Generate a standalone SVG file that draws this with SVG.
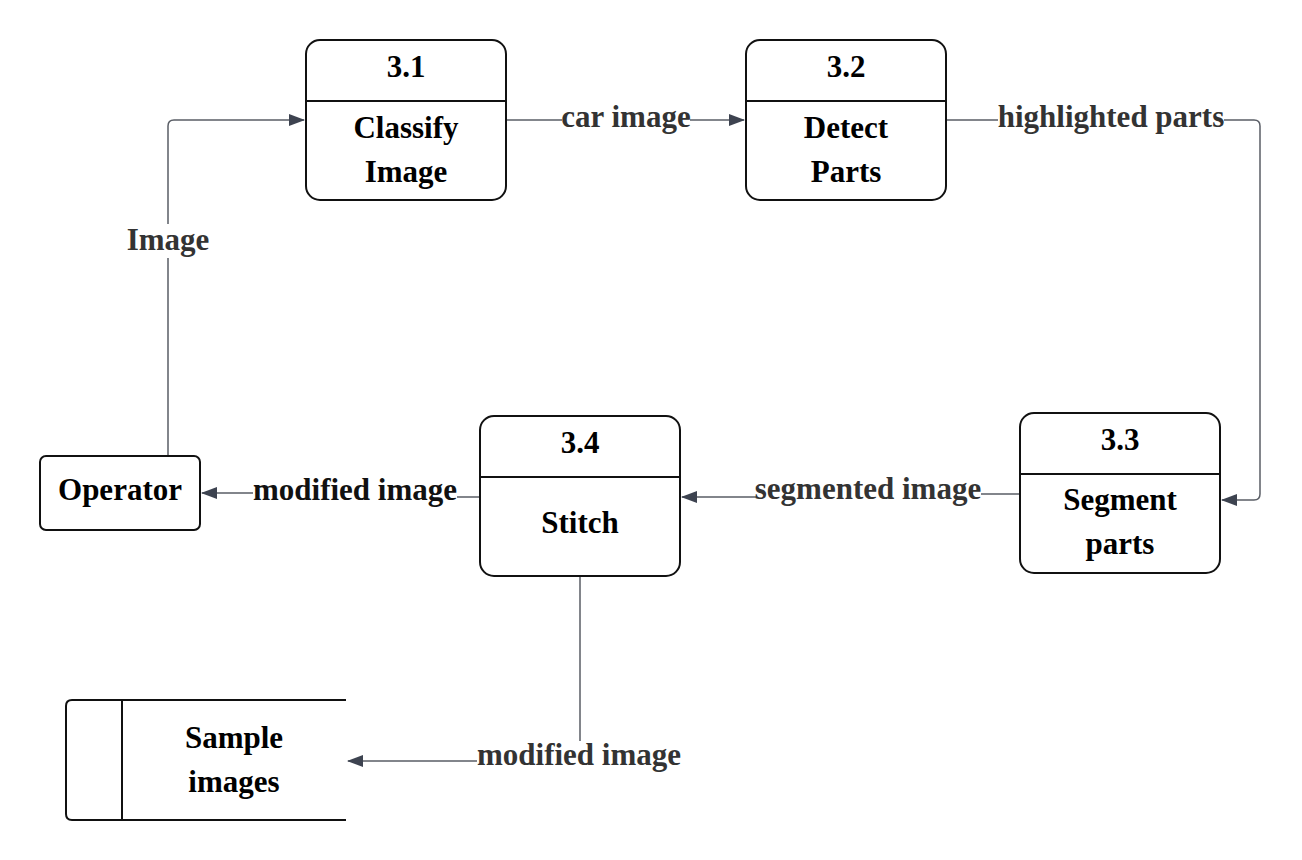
<svg xmlns="http://www.w3.org/2000/svg" width="1302" height="860" viewBox="0 0 1302 860">
<style>
.box{fill:#fff;stroke:#111;stroke-width:2}
.div{stroke:#111;stroke-width:2}
.ln{fill:none;stroke:#5a5e66;stroke-width:1.5}
.bg{fill:#fff}
</style>
<defs>
<marker id="ah" markerWidth="16" markerHeight="12" refX="15" refY="6" orient="auto" markerUnits="userSpaceOnUse">
<path d="M0,0 L16,6 L0,12 Z" fill="#3d4350"/>
</marker>
</defs>
<rect width="1302" height="860" fill="#fff"/>
<g id="connectors">
<path class="ln" d="M168,456 V126 Q168,120 174,120 H304" marker-end="url(#ah)"/>
<rect class="bg" x="127" y="224" width="82" height="34"/>
<text font-family="Liberation Serif" font-weight="bold" font-size="31" fill="#333" text-anchor="middle" x="168" y="250">Image</text>
<path class="ln" d="M506,120 H744" marker-end="url(#ah)"/>
<rect class="bg" x="562" y="103" width="128" height="34"/>
<text font-family="Liberation Serif" font-weight="bold" font-size="31" fill="#333" text-anchor="middle" x="626" y="127">car image</text>
<path class="ln" d="M946,120 H1254 Q1260,120 1260,126 V494 Q1260,500 1254,500 H1222" marker-end="url(#ah)"/>
<rect class="bg" x="998" y="103" width="226" height="34"/>
<text font-family="Liberation Serif" font-weight="bold" font-size="31" fill="#333" text-anchor="middle" x="1111" y="127">highlighted parts</text>
<path class="ln" d="M1020,494 H870 V497 H682" marker-end="url(#ah)"/>
<rect class="bg" x="756" y="475" width="225" height="34"/>
<text font-family="Liberation Serif" font-weight="bold" font-size="31" fill="#333" text-anchor="middle" x="868" y="499">segmented image</text>
<path class="ln" d="M480,497 H360 V493 H202" marker-end="url(#ah)"/>
<rect class="bg" x="253" y="476" width="204" height="34"/>
<text font-family="Liberation Serif" font-weight="bold" font-size="31" fill="#111" text-anchor="middle" x="355" y="500">modified image</text>
<path class="ln" d="M580,576 V761 H348" marker-end="url(#ah)"/>
<rect class="bg" x="477" y="741" width="204" height="34"/>
<text font-family="Liberation Serif" font-weight="bold" font-size="31" fill="#333" text-anchor="middle" x="579" y="765">modified image</text>
</g>
<g id="p31">
<rect class="box" x="306" y="40" width="200" height="160" rx="14"/>
<line class="div" x1="306" y1="101" x2="506" y2="101"/>
<text font-family="Liberation Serif" font-weight="bold" font-size="31" fill="#000" text-anchor="middle" x="406" y="77">3.1</text>
<text font-family="Liberation Serif" font-weight="bold" font-size="31" fill="#000" text-anchor="middle" x="406" y="138">Classify</text>
<text font-family="Liberation Serif" font-weight="bold" font-size="31" fill="#000" text-anchor="middle" x="406" y="182">Image</text>
</g>
<g id="p32">
<rect class="box" x="746" y="40" width="200" height="160" rx="14"/>
<line class="div" x1="746" y1="101" x2="946" y2="101"/>
<text font-family="Liberation Serif" font-weight="bold" font-size="31" fill="#000" text-anchor="middle" x="846" y="77">3.2</text>
<text font-family="Liberation Serif" font-weight="bold" font-size="31" fill="#000" text-anchor="middle" x="846" y="138">Detect</text>
<text font-family="Liberation Serif" font-weight="bold" font-size="31" fill="#000" text-anchor="middle" x="846" y="182">Parts</text>
</g>
<g id="p33">
<rect class="box" x="1020" y="413" width="200" height="160" rx="14"/>
<line class="div" x1="1020" y1="474" x2="1220" y2="474"/>
<text font-family="Liberation Serif" font-weight="bold" font-size="31" fill="#000" text-anchor="middle" x="1120" y="450">3.3</text>
<text font-family="Liberation Serif" font-weight="bold" font-size="31" fill="#000" text-anchor="middle" x="1120" y="510">Segment</text>
<text font-family="Liberation Serif" font-weight="bold" font-size="31" fill="#000" text-anchor="middle" x="1120" y="554">parts</text>
</g>
<g id="p34">
<rect class="box" x="480" y="416" width="200" height="160" rx="14"/>
<line class="div" x1="480" y1="477" x2="680" y2="477"/>
<text font-family="Liberation Serif" font-weight="bold" font-size="31" fill="#000" text-anchor="middle" x="580" y="453">3.4</text>
<text font-family="Liberation Serif" font-weight="bold" font-size="31" fill="#000" text-anchor="middle" x="580" y="533">Stitch</text>
</g>
<g id="operator">
<rect class="box" x="40" y="456" width="160" height="74" rx="6"/>
<text font-family="Liberation Serif" font-weight="bold" font-size="31" fill="#000" text-anchor="middle" x="120" y="500">Operator</text>
</g>
<g id="store">
<path class="box" d="M346,700 H72 Q66,700 66,706 V814 Q66,820 72,820 H346"/>
<line class="div" x1="122" y1="700" x2="122" y2="820"/>
<text font-family="Liberation Serif" font-weight="bold" font-size="31" fill="#000" text-anchor="middle" x="234" y="748">Sample</text>
<text font-family="Liberation Serif" font-weight="bold" font-size="31" fill="#000" text-anchor="middle" x="234" y="792">images</text>
</g>
</svg>
